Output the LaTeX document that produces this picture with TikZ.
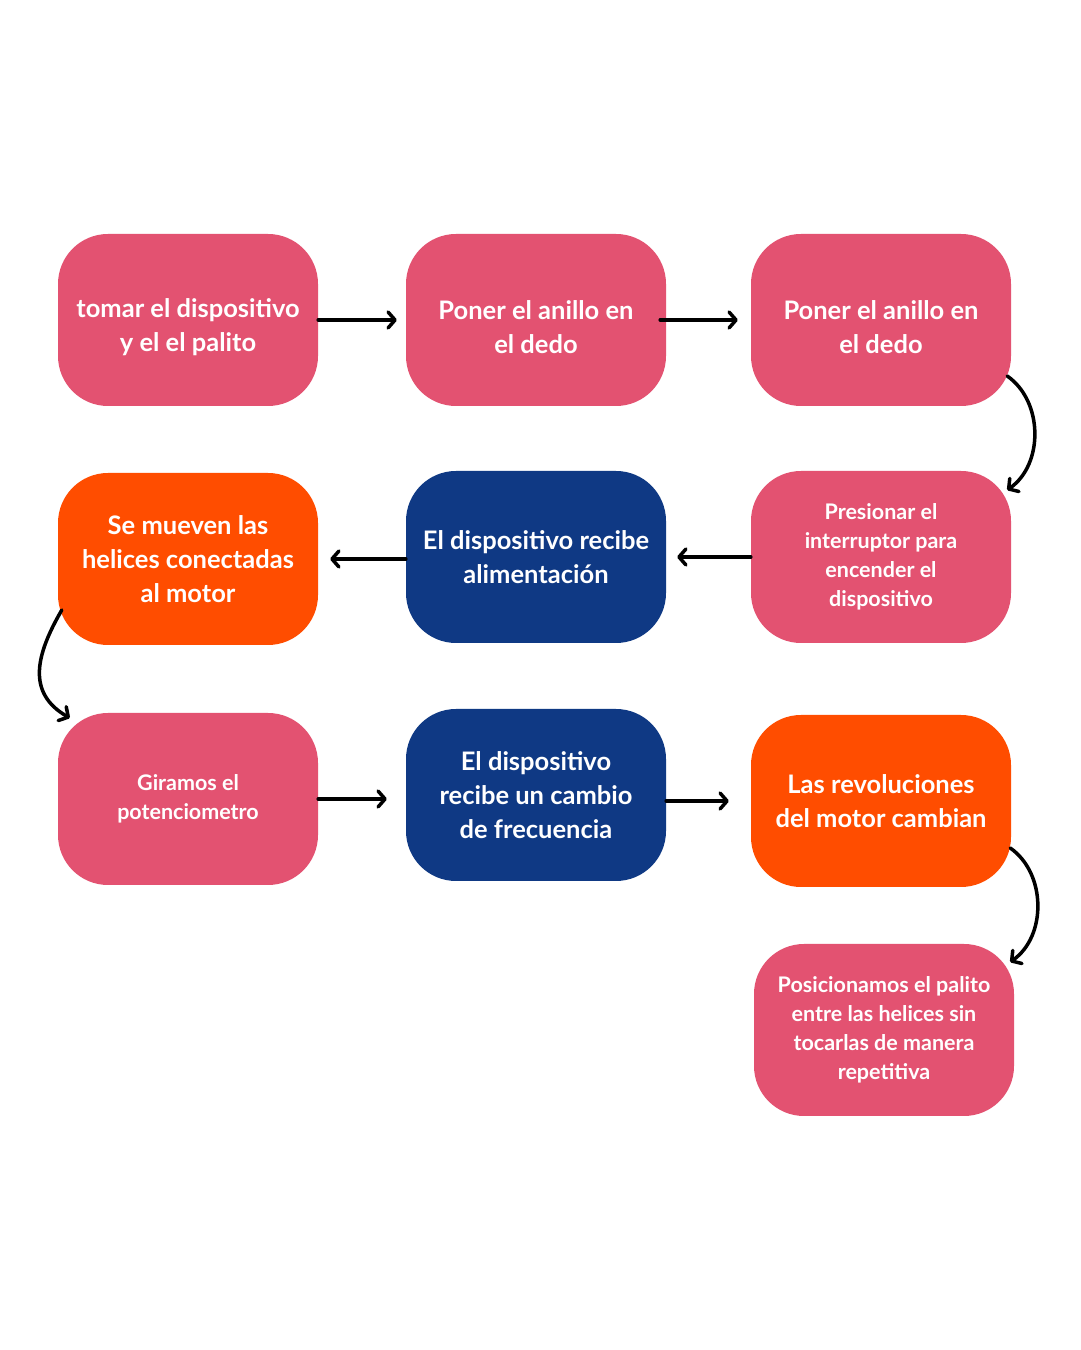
\documentclass[tikz,border=0pt]{standalone}
\usepackage{fontspec}
\setmainfont{Lato}
\usepackage{xcolor}
\usepackage{tikz}
\usetikzlibrary{calc}
\usetikzlibrary{arrows.meta}
\definecolor{Rosa}{HTML}{E35271}
\definecolor{Naranja}{HTML}{FF4D00}
\definecolor{Azul}{HTML}{0F3984}
\newcommand{\Baja}{\rule{0pt}{34pt}}
\tikzset{%Global config
	x=1pt,
	y=1pt,
	>={Straight Barb[length=7pt,width=16pt,round]},
	%Styles
	Paso/.style={
		rectangle,
		rounded corners=50pt,
		minimum width=260pt,
		minimum height=172pt,
		align=center,
		text=white,
		font=\bfseries\fontsize{25.5}{34}\selectfont,
		inner sep=0pt,
	},
	PasoChico/.style={
		Paso,
		font=\bfseries\fontsize{21.5}{29}\selectfont,
	},
	Flecha/.style={
		->,
		line width=3.5pt,
		line cap=round,
	},
}

\begin{document}
\begin{tikzpicture}
		\useasboundingbox[fill=white] (0,0) rectangle (1080,1350);
		% Fila 1
		\node[Paso,fill=Rosa] (P1) at (188,1030) {\Baja tomar el dispositivo\\y el el palito};
		\node[Paso,fill=Rosa] (P2) at (536,1030) {\Baja Poner el anillo en\\el dedo};
		\node[Paso,fill=Rosa] (P3) at (881,1030) {\Baja Poner el anillo en\\el dedo};
		% Fila 2
		\node[Paso,fill=Naranja] (P4) at (188,791) {Se mueven las\\helices conectadas\\al motor};
		\node[Paso,fill=Azul] (P5) at (536,793) {El dispositivo recibe\\alimentación};
		\node[PasoChico,fill=Rosa] (P6) at (881,793) {Presionar el\\interruptor para\\encender el\\dispositivo};
		% Fila 3
		\node[PasoChico,fill=Rosa] (P7) at (188,551) {Giramos el\\potenciometro};
		\node[Paso,fill=Azul] (P8) at (536,555) {El dispositivo\\recibe un cambio\\de frecuencia};
		\node[Paso,fill=Naranja] (P9) at (881,549) {Las revoluciones\\del motor cambian};
		% Fila 4
		\node[PasoChico,fill=Rosa] (P10) at (884,320) {Posicionamos el palito\\entre las helices sin\\tocarlas de manera\\repetitiva};
		
		% Flechas
		\draw[Flecha,shorten >=9pt] (P1.east) -- (P2.west);
		\draw[Flecha,shorten <=-6pt,shorten >=13pt] (P2.east) -- (P3.west);
		\draw[Flecha,shorten >=11pt] (P6.west) -- (P6.west -| P5.east);
		\draw[Flecha,shorten >=12pt] (P5.west |- P4.east) -- (P4.east);
		\draw[Flecha,shorten >=19pt] (P7.east) -- (P7.east -| P8.west);
		\draw[Flecha,shorten >=22pt] (P8.east |- P9.west) -- (P9.west);
		\draw[Flecha] ([shift={(-4,-56)}]P3.east) to[out=-35,in=35,looseness=1] ([shift={(-4,67)}]P6.east);
		\draw[Flecha] ([shift={(4,-51)}]P4.west) to[out=-120,in=150,looseness=1.2] ([shift={(12,81)}]P7.west);
		\draw[Flecha] ([shift={(-1,-47)}]P9.east) to[out=-35,in=35,looseness=1] ([shift={(-4,68)}]P10.east);
	\end{tikzpicture}
\end{document}
